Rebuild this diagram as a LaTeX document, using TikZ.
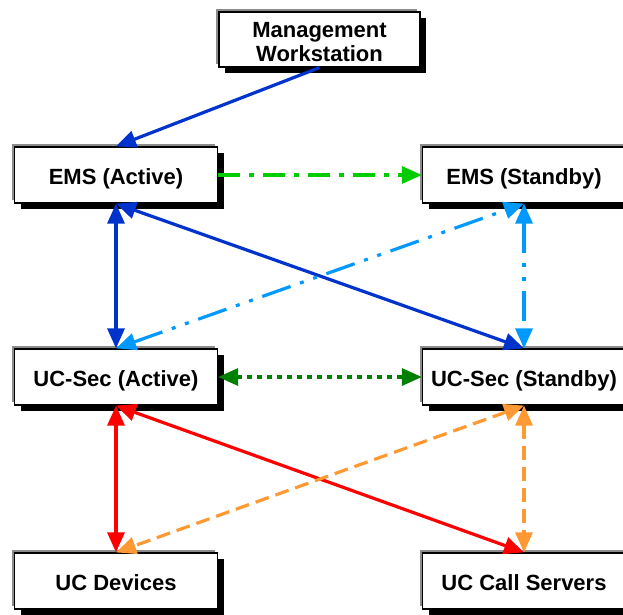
\documentclass[tikz,border=0pt]{standalone}
\usepackage{fontspec}
\setmainfont{Liberation Sans}
\usetikzlibrary{arrows.meta,shadows}
\definecolor{cdblue}{RGB}{0,51,204}
\definecolor{clblue}{RGB}{0,153,255}
\definecolor{cgreen}{RGB}{0,204,0}
\definecolor{cdgreen}{RGB}{0,128,0}
\definecolor{cred}{RGB}{255,0,0}
\definecolor{corange}{RGB}{255,153,51}
\begin{document}
\begin{tikzpicture}[x=1pt,y=-1pt,
  boxfont/.style={font=\fontsize{22}{24}\selectfont\bfseries},
  box/.style={draw=black, line width=1.2pt, fill=white, minimum width=203pt, minimum height=56pt,
    inner sep=0pt, align=center, boxfont, text height=19pt, text depth=1pt,
    general shadow={fill=black, shadow xshift=6pt, shadow yshift=-6pt},
    general shadow={fill=black!45, shadow xshift=-3pt, shadow yshift=3pt}},
  tip/.tip={Triangle[length=20pt,width=17pt]},
  conn/.style={line width=3.2pt, -tip},
  bconn/.style={line width=3.2pt, tip-tip},
  dashdotA/.style={dash pattern=on 22pt off 9pt on 5pt off 9pt},
  dashdotdot/.style={dash pattern=on 30pt off 10pt on 4pt off 10pt on 4pt off 10pt},
  dotsq/.style={dash pattern=on 5pt off 5pt},
  dashB/.style={dash pattern=on 14pt off 7pt}
]
\useasboundingbox (0,0) rectangle (623,614);
\node[box, minimum width=201pt, minimum height=55pt] (mw) at (319.5,39.5) {};
\node[boxfont, align=center] (mwt) at (319.5,42.5) {Management\\Workstation};
\node[box] (emsa) at (116,175) {EMS (Active)};
\node[box] (emss) at (524,175) {EMS (Standby)};
\node[box] (uca) at (116,377) {UC-Sec (Active)};
\node[box] (ucs) at (524,377) {UC-Sec (Standby)};
\node[box] (dev) at (116,581) {UC Devices};
\node[box] (cs) at (524,581) {UC Call Servers};

\draw[conn, cdblue] (mw.south) -- (emsa.north);
\draw[conn, cgreen, dashdotA] (emsa.east) -- (emss.west);
\draw[bconn, cdblue] (emsa.south) -- (uca.north);
\draw[bconn, cdblue] (emsa.south) -- (ucs.north);
\draw[bconn, clblue, dashdotdot] (uca.north) -- (emss.south);
\draw[bconn, clblue, dashdotdot] (emss.south) -- (ucs.north);
\draw[bconn, cdgreen, dotsq] (uca.east) -- (ucs.west);
\draw[bconn, cred] (uca.south) -- (dev.north);
\draw[bconn, cred] (uca.south) -- (cs.north);
\draw[bconn, corange, dashB] (ucs.south) -- (dev.north);
\draw[bconn, corange, dashB] (ucs.south) -- (cs.north);
\end{tikzpicture}
\end{document}
